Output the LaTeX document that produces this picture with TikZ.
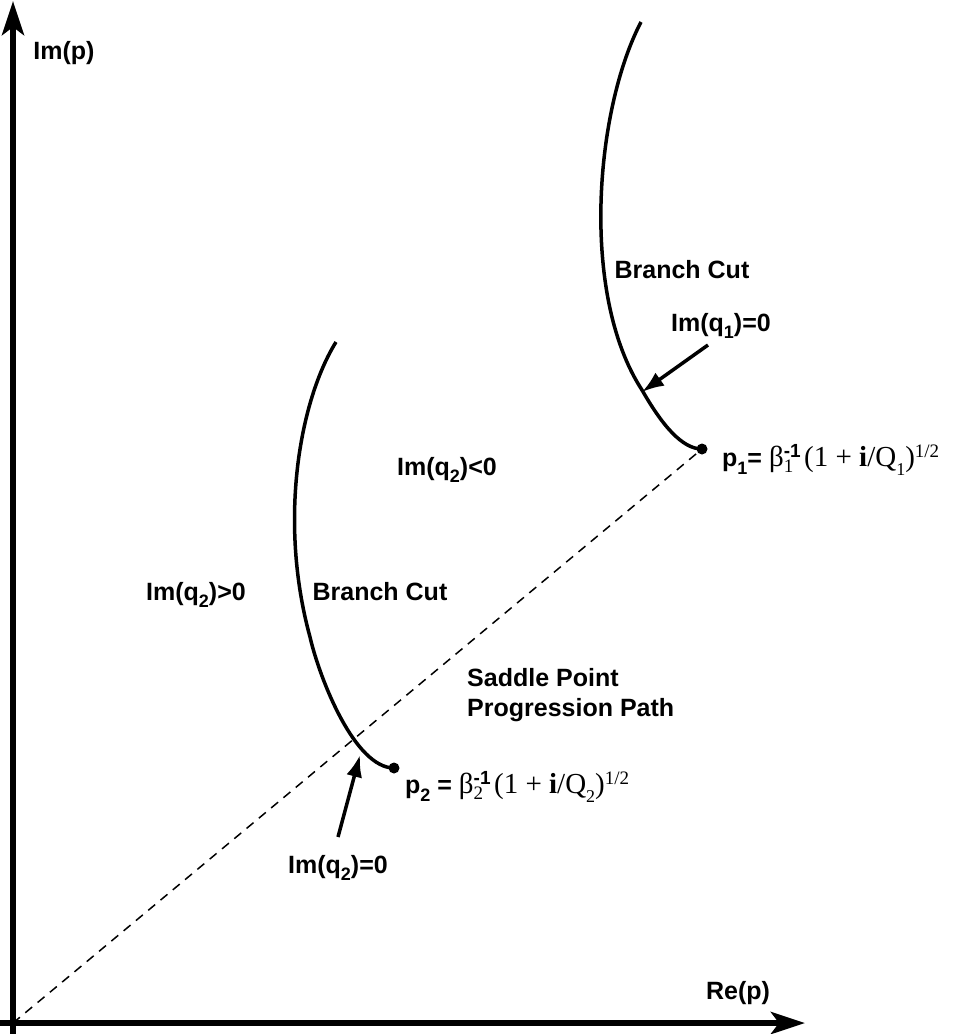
\documentclass[tikz,border=0pt]{standalone}
\usepackage{fontspec}
\setmainfont{Liberation Sans}
\setsansfont{Liberation Sans}
\newfontfamily\tms{Liberation Serif}
\usetikzlibrary{arrows.meta}
\newcommand\lowsub[1]{\raisebox{-0.3em}{\fontsize{18}{18}\selectfont #1}}
\newcommand\smallhb[1]{\hbox{\fontsize{19}{19}\selectfont #1}}
\tikzset{
 lbl/.style={font=\sffamily\bfseries\fontsize{25}{30}\selectfont, inner sep=0pt},
 axisline/.style={line width=6pt, -{Stealth[length=34pt,width=22pt,inset=8pt]}},
 cutline/.style={line width=3.5pt},
 ptr/.style={line width=3.5pt, -{Latex[length=22pt,width=16pt]}},
 sadpath/.style={line width=1.5pt, dash pattern=on 9pt off 7pt},
 dotnode/.style={circle, fill, inner sep=0pt, minimum size=11pt}
}
\begin{document}
\begin{tikzpicture}[x=1pt,y=-1pt]
\useasboundingbox (0,0) rectangle (953,1034);
% axes
\coordinate (O) at (13,1023);
\coordinate (ybot) at (13,1034);
\coordinate (ytip) at (13,1);
\coordinate (xleft) at (0,1023);
\coordinate (xtip) at (805,1023);
\draw[axisline] (ybot) -- (ytip);
\draw[axisline] (xleft) -- (xtip);
\node[lbl] (imp) at (64,53) {Im(p)};
\node[lbl] (rep) at (738,993) {Re(p)};
% points
\node[dotnode] (p1) at (702,449) {};
\node[dotnode] (p2) at (394,768) {};
% saddle point path
\draw[sadpath] (O) -- (p1.center);
% branch cuts
\coordinate (c1top) at (641,22);
\coordinate (c1mid) at (642,390);
\coordinate (c2top) at (336,342);
\coordinate (c2mid) at (310,637);
\draw[cutline] (c1top) .. controls (595,110) and (580,295) .. (c1mid)
  .. controls (662,425) and (682,449) .. (p1.center);
\draw[cutline] (c2top) .. controls (300,400) and (278,520) .. (c2mid)
  .. controls (320,680) and (355,768) .. (p2.center);
% labels
\node[lbl] (bc1) at (682,270) {Branch Cut};
\node[lbl] (bc2) at (380,592) {Branch Cut};
\node[lbl] (q1z) at (721,326) {Im(q\lowsub{1})=0};
\node[lbl] (q2z) at (338,868) {Im(q\lowsub{2})=0};
\node[lbl] (q2n) at (447,470) {Im(q\lowsub{2})<0};
\node[lbl] (q2p) at (196,595) {Im(q\lowsub{2})>0};
\node[lbl, anchor=west, align=left] (spp) at (467,695) {Saddle Point\\Progression Path};
% arrows
\coordinate (a1s) at (708,345);
\coordinate (a1e) at (642,392);
\coordinate (a2s) at (338,837);
\coordinate (a2e) at (360,755);
\draw[ptr] (a1s) -- (a1e);
\draw[ptr] (a2s) -- (a2e);
% formulas
\node[lbl, anchor=west] (l1) at (722,460) {p\lowsub{1}= {\mdseries\tms\fontsize{29}{34}\selectfont β$^{\smallhb{\sffamily\bfseries -1}}_{\smallhb{\tms 1}}$\kern3pt(1 + {\bfseries i}/Q\lowsub{1})$^{\smallhb{\tms 1/2}}$}};
\node[lbl, anchor=west] (l2) at (405,787) {p\lowsub{2} = {\mdseries\tms\fontsize{29}{34}\selectfont β$^{\smallhb{\sffamily\bfseries -1}}_{\smallhb{\tms 2}}$\kern3pt(1 + {\bfseries i}/Q\lowsub{2})$^{\smallhb{\tms 1/2}}$}};
\end{tikzpicture}
\end{document}
